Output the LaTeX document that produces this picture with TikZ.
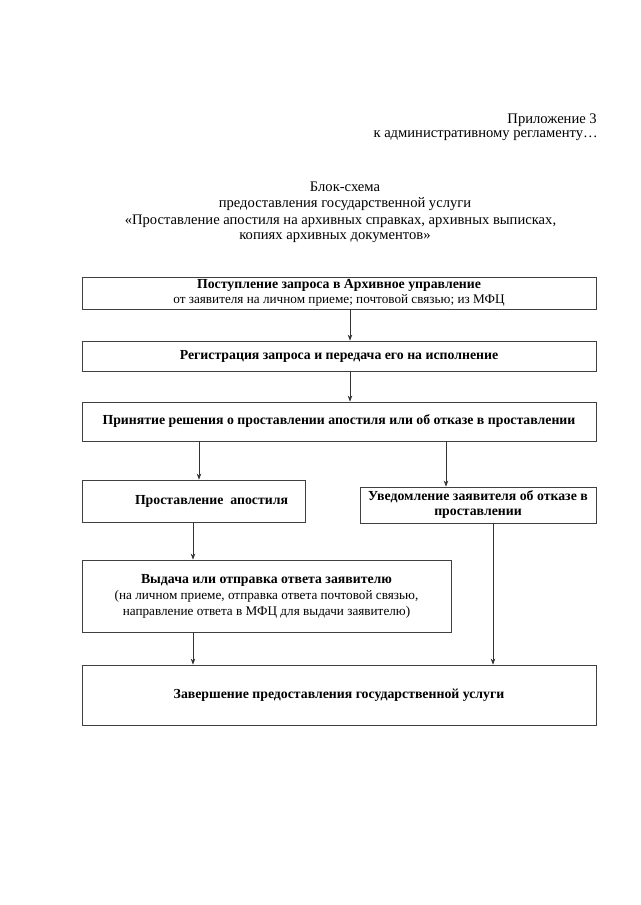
\documentclass[tikz,border=0pt]{standalone}
\usepackage{fontspec}
\setmainfont{Liberation Serif}
\usetikzlibrary{arrows.meta}
\newcommand{\bx}[1]{{\fontsize{13.8}{15}\selectfont\bfseries #1}}
\begin{document}
\begin{tikzpicture}[x=1pt,y=-1pt,
  box/.style={draw=black!75, line width=0.8pt, inner sep=0pt, align=center, font=\fontsize{13.2}{15}\selectfont},
  hdr/.style={inner sep=0pt, align=center, font=\fontsize{14.6}{16}\selectfont},
  arr/.style={draw=black!80, line width=0.7pt, -{Stealth[length=6pt,width=4.5pt]}},
  ln/.style={draw=black!80, line width=0.7pt}]
\useasboundingbox[fill=white] (0,0) rectangle (640,905);
% header
\node[hdr, anchor=east] (app) at (597,120) {Приложение 3};
\node[hdr, anchor=east] (reg) at (598,136) {к административному регламенту…};
\node[hdr] (t1) at (345,187) {Блок-схема};
\node[hdr] (t2) at (345,204) {предоставления государственной услуги};
\node[hdr] (t3) at (340.5,221) {«Проставление апостиля на архивных справках, архивных выписках,};
\node[hdr] (t4) at (335,238) {копиях архивных документов»};
% boxes
\node[box, minimum width=514pt, minimum height=32pt] (b1) at (339,293)
  {\bx{Поступление запроса в Архивное управление}\\от заявителя на личном приеме; почтовой связью; из МФЦ};
\node[box, minimum width=514pt, minimum height=30pt] (b2) at (339,356)
  {\bx{Регистрация запроса и передача его на исполнение}};
\node[box, minimum width=514pt, minimum height=39pt] (b3) at (339,421.5)
  {\raisebox{4pt}{\bx{Принятие решения о проставлении апостиля или об отказе в проставлении}}};
\node[box, minimum width=223pt, minimum height=42pt] (b4) at (193.5,501)
  {\hspace*{36pt}\bx{Проставление\ \ апостиля}};
\node[box, minimum width=236pt, minimum height=36pt] (b5) at (478,505)
  {\bx{Уведомление заявителя об отказе в}\\\bx{проставлении}};
\node[box, minimum width=369pt, minimum height=72pt, font=\fontsize{13.2}{16}\selectfont] (b6) at (266.5,596)
  {\bx{Выдача или отправка ответа заявителю}\\(на личном приеме, отправка ответа почтовой связью,\\направление ответа в МФЦ для выдачи заявителю)};
\node[box, minimum width=514pt, minimum height=60pt] (b7) at (339,695)
  {\bx{Завершение предоставления государственной услуги}};
% connectors
\draw[arr] (b1.south -| 350,0) -- (b2.north -| 350,0);
\draw[arr] (b2.south -| 350,0) -- (b3.north -| 350,0);
\draw[arr] (b3.south -| 199,0) -- (b4.north -| 199,0);
\draw[arr] (b3.south -| 446,0) -- (b5.north -| 446,0);
\draw[arr] (b4.south -| 193,0) -- (b6.north -| 193,0);
\draw[arr] (b6.south -| 193,0) -- (b7.north -| 193,0);
\draw[arr] (b5.south -| 493,0) -- (b7.north -| 493,0);
\end{tikzpicture}
\end{document}
